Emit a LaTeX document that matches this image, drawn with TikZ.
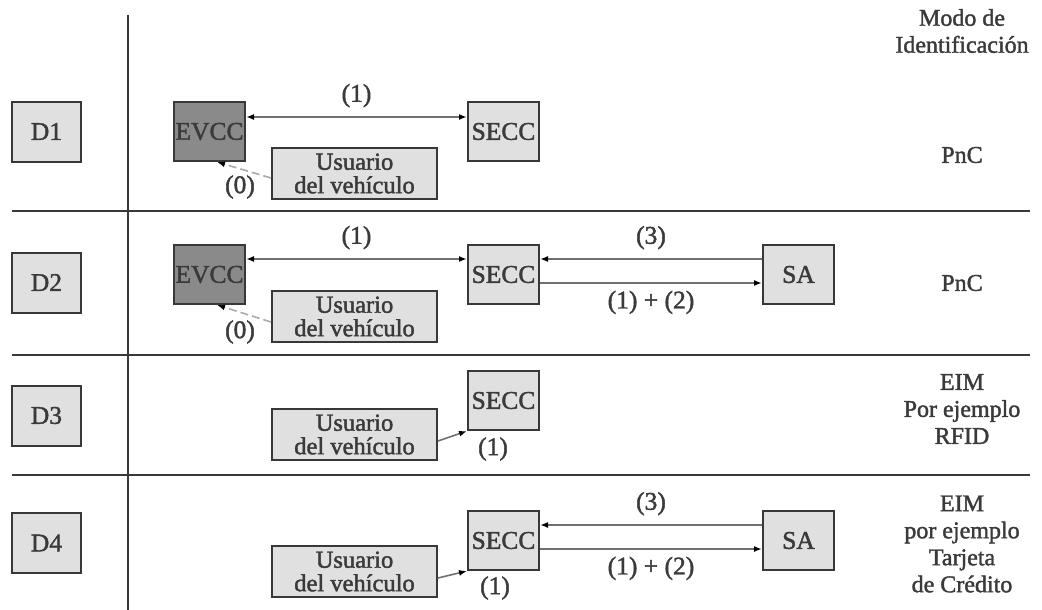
\documentclass[tikz,border=0pt]{standalone}
\usepackage{fontspec}
\setmainfont{Liberation Serif}[FakeBold=1.6]
\usetikzlibrary{arrows.meta}
\definecolor{boxfill}{HTML}{E0E0E0}
\definecolor{darkfill}{HTML}{8A8A8A}
\definecolor{linec}{HTML}{383838}
\definecolor{arrc}{HTML}{707070}
\definecolor{txtc}{HTML}{3A3A3A}
\begin{document}
\begin{tikzpicture}[x=1pt,y=-1pt,
  box/.style={draw=linec, line width=2pt, fill=boxfill, inner sep=0pt,
    text=txtc, font=\fontsize{25.5}{22}\selectfont, minimum width=71pt, minimum height=59pt},
  dbox/.style={box, minimum width=69pt, minimum height=60pt},
  evbox/.style={box, fill=darkfill},
  ubox/.style={box, align=center, minimum width=165pt, minimum height=51pt,
    font=\fontsize{24.5}{23.5}\selectfont},
  lbl/.style={text=txtc, font=\fontsize{25.5}{22}\selectfont, inner sep=0pt},
  rlbl/.style={text=txtc, font=\fontsize{24}{27}\selectfont, align=center, inner sep=0pt},
  sep/.style={draw=linec, line width=2.2pt},
  conn/.style={draw=arrc, line width=1.6pt, -{Latex[length=8pt,width=6pt,color=black]}},
  conn2/.style={draw=arrc, line width=1.6pt, {Latex[length=8pt,width=6pt,color=black]}-{Latex[length=8pt,width=6pt,color=black]}},
  dconn/.style={draw=arrc!60, line width=1.6pt, dash pattern=on 8pt off 4pt, -{Latex[length=8pt,width=6pt,color=black]}}
]
\useasboundingbox (0,0) rectangle (1042,610);
% separators
\draw[sep] (128,15) -- (128,610);
\draw[sep] (12,211) -- (1030,211);
\draw[sep] (12,355) -- (1030,355);
\draw[sep] (12,475) -- (1030,475);
% left labels
\node[dbox] (d1) at (46.5,131.5) {D1};
\node[dbox] (d2) at (46.5,282.5) {D2};
\node[dbox] (d3) at (46.5,415.5) {D3};
\node[dbox] (d4) at (46.5,543) {D4};
% right column
\node[rlbl] (modo) at (962,31) {Modo de\\Identificación};
\node[rlbl] (m1) at (962,155) {PnC};
\node[rlbl] (m2) at (962,283) {PnC};
\node[rlbl] (m3) at (962,409) {EIM\\Por ejemplo\\RFID};
\node[rlbl] (m4) at (962,544) {EIM\\por ejemplo\\Tarjeta\\de Crédito};
% D1
\node[evbox] (evcc1) at (209.5,131.5) {EVCC};
\node[box] (secc1) at (503.5,131.5) {SECC};
\node[ubox] (us1) at (354.5,173.5) {Usuario\\del vehículo};
\draw[conn2] ([yshift=14.5pt]evcc1.east) -- node[lbl, above=9pt] (l1a) {(1)} ([yshift=14.5pt]secc1.west);
\draw[dconn] ([yshift=-4.5pt]us1.west) -- ([xshift=7.5pt]evcc1.south);
\node[lbl] (l1b) at (240,187) {(0)};
% D2
\node[evbox] (evcc2) at (209.5,274.5) {EVCC};
\node[box] (secc2) at (503.5,274.5) {SECC};
\node[box] (sa2) at (798.5,274.5) {SA};
\node[ubox] (us2) at (354.5,316.5) {Usuario\\del vehículo};
\draw[conn2] ([yshift=15.5pt]evcc2.east) -- node[lbl, above=9pt] (l2a) {(1)} ([yshift=15.5pt]secc2.west);
\draw[conn] ([yshift=15.5pt]sa2.west) -- node[lbl, above=9pt] (l2b) {(3)} ([yshift=15.5pt]secc2.east);
\draw[conn] ([yshift=-8.5pt]secc2.east) -- node[lbl, below=7pt] (l2c) {(1) + (2)} ([yshift=-8.5pt]sa2.west);
\draw[dconn] ([yshift=-5.5pt]us2.west) -- ([xshift=7.5pt]evcc2.south);
\node[lbl] (l2d) at (240,332) {(0)};
% D3
\node[box] (secc3) at (503.5,400.5) {SECC};
\node[ubox] (us3) at (354.5,434.5) {Usuario\\del vehículo};
\draw[conn] ([yshift=-6.5pt]us3.east) -- (secc3.south west);
\node[lbl] (l3) at (493,449) {(1)};
% D4
\node[box] (secc4) at (503.5,540.5) {SECC};
\node[box] (sa4) at (798.5,540.5) {SA};
\node[ubox] (us4) at (354.5,571.5) {Usuario\\del vehículo};
\draw[conn] ([yshift=15.5pt]sa4.west) -- node[lbl, above=9pt] (l4b) {(3)} ([yshift=15.5pt]secc4.east);
\draw[conn] ([yshift=-8.5pt]secc4.east) -- node[lbl, below=7pt] (l4c) {(1) + (2)} ([yshift=-8.5pt]sa4.west);
\draw[conn] ([yshift=-6.5pt]us4.east) -- (secc4.south west);
\node[lbl] (l4) at (495,588) {(1)};
\end{tikzpicture}
\end{document}
